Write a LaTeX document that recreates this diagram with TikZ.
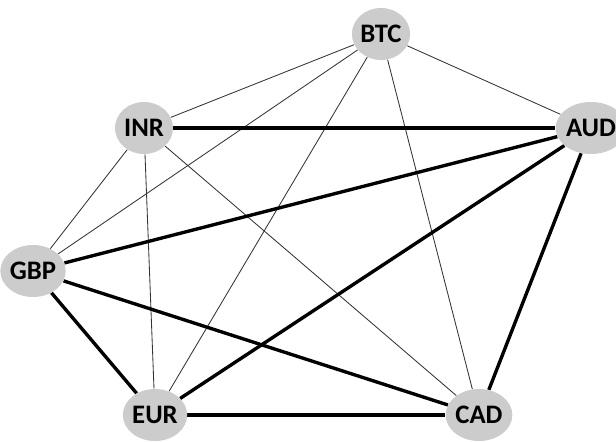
\documentclass[tikz,border=0pt]{standalone}
\usepackage{fontspec}
\setmainfont{Carlito}
\usetikzlibrary{shapes.geometric,backgrounds}
\tikzset{
  cur/.style={ellipse, fill=gray!40, draw=none, minimum width=1.45cm, minimum height=1.3cm, inner sep=0pt, font=\fontsize{19}{21}\selectfont\bfseries},
  thin edge/.style={draw=black!80, line width=0.6pt},
  thick edge/.style={draw=black, line width=2.4pt}
}
\begin{document}
\begin{tikzpicture}[x=0.025cm,y=-0.025cm]
\useasboundingbox (0,0) rectangle (616,441);
\node[cur] (BTC) at (381,34) {BTC};
\node[cur] (INR) at (144,128) {INR};
\node[cur] (AUD) at (591,128) {AUD};
\node[cur] (GBP) at (33,271) {GBP};
\node[cur] (EUR) at (155,415) {EUR};
\node[cur] (CAD) at (479,415) {CAD};
\begin{scope}[on background layer]
\draw[thin edge] (BTC) -- (INR);
\draw[thin edge] (BTC) -- (AUD);
\draw[thin edge] (BTC) -- (GBP);
\draw[thin edge] (BTC) -- (EUR);
\draw[thin edge] (BTC) -- (CAD);
\draw[thin edge] (INR) -- (GBP);
\draw[thin edge] (INR) -- (EUR);
\draw[thin edge] (INR) -- (CAD);
\draw[thick edge] (INR) -- (AUD);
\draw[thick edge] (AUD) -- (GBP);
\draw[thick edge] (AUD) -- (EUR);
\draw[thick edge] (AUD) -- (CAD);
\draw[thick edge] (GBP) -- (EUR);
\draw[thick edge] (GBP) -- (CAD);
\draw[thick edge] (EUR) -- (CAD);
\end{scope}
\end{tikzpicture}
\end{document}
